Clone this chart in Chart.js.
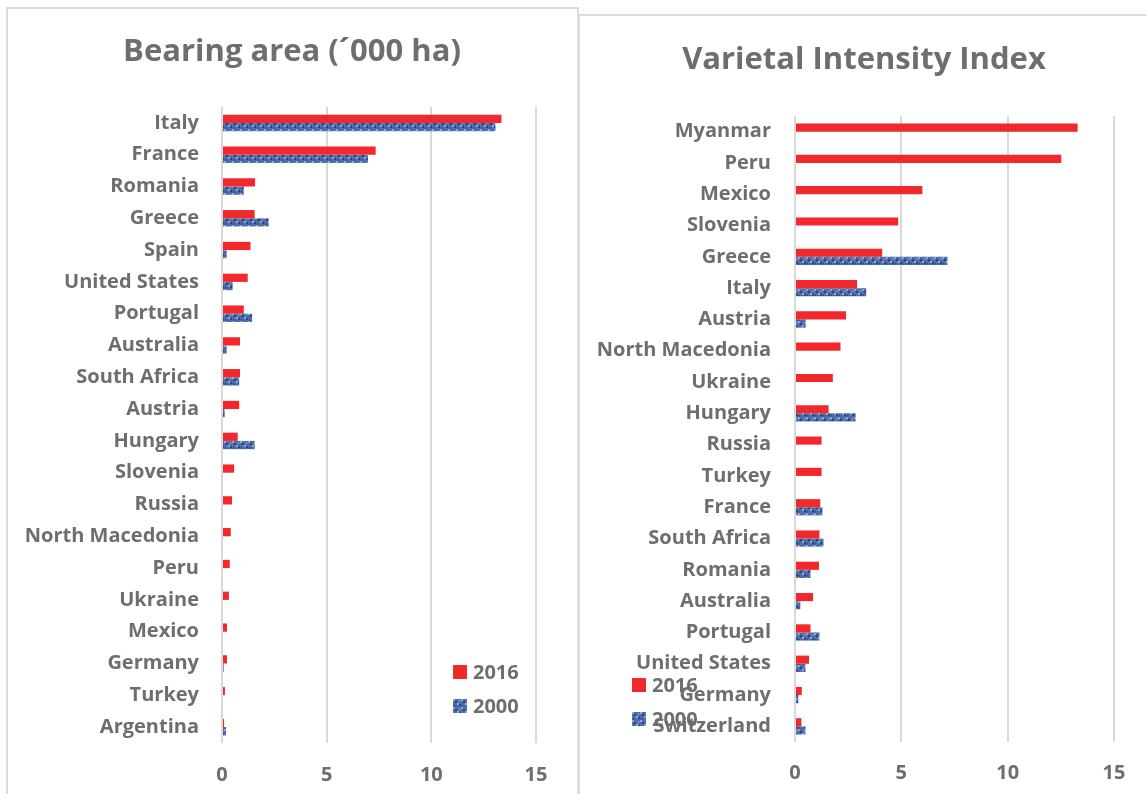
<!DOCTYPE html>
<html>
<head>
<meta charset="utf-8">
<script src="https://cdn.jsdelivr.net/npm/chart.js@4.4.1/dist/chart.umd.min.js"></script>
<style>
  html, body { margin: 0; padding: 0; background: #fff; overflow: hidden; }
  body { width: 1146px; height: 794px; position: relative; font-family: "Open Sans", sans-serif; }
  .panel { position: absolute; border: 2px solid #dcdcdc; background: #fff; box-sizing: border-box; }
  #leftPanel { left: 6px; top: 7px; width: 573px; height: 800px; }
  #rightPanel { left: 578px; top: 14px; width: 580px; height: 800px; }
  .box { position: absolute; }
  .legend { position: absolute; font: bold 20px "Open Sans", sans-serif; color: #6e6e6e; }
  .legend-item { position: absolute; white-space: nowrap; height: 24px; line-height: 24px; }
  .legend-swatch { position: absolute; left: 0; top: 5px; width: 14px; height: 14px; }
  .legend-item span.txt { position: absolute; left: 20px; top: 0; }
</style>
</head>
<body>
<div class="panel" id="leftPanel"></div>
<div class="panel" id="rightPanel"></div>
<div class="box" style="left:8px;top:9px;width:568px;height:808px;"><canvas id="areaChart" width="568" height="808"></canvas></div>
<div class="box" style="left:582px;top:17px;width:564px;height:797px;"><canvas id="indexChart" width="564" height="797"></canvas></div>
<div class="legend" id="areaLegend" style="left:453px;top:660px;"></div>
<div class="legend" id="indexLegend" style="left:632px;top:673px;"></div>
<script>
// Bearing area ('000 ha)
const areaCountries = ["Italy", "France", "Romania", "Greece", "Spain", "United States", "Portugal",
  "Australia", "South Africa", "Austria", "Hungary", "Slovenia", "Russia", "North Macedonia",
  "Peru", "Ukraine", "Mexico", "Germany", "Turkey", "Argentina"];
const area2016 = [13.35, 7.34, 1.58, 1.56, 1.36, 1.23, 1.04, 0.86, 0.86, 0.82, 0.75, 0.58, 0.48,
  0.42, 0.37, 0.33, 0.24, 0.24, 0.14, 0.1];
const area2000 = [13.06, 6.97, 1.04, 2.23, 0.22, 0.51, 1.44, 0.22, 0.82, 0.13, 1.56, 0, 0,
  0, 0, 0, 0, 0.08, 0, 0.19];

// Varietal Intensity Index
const indexCountries = ["Myanmar", "Peru", "Mexico", "Slovenia", "Greece", "Italy", "Austria",
  "North Macedonia", "Ukraine", "Hungary", "Russia", "Turkey", "France", "South Africa", "Romania",
  "Australia", "Portugal", "United States", "Germany", "Switzerland"];
const index2016 = [13.29, 12.52, 5.99, 4.85, 4.1, 2.92, 2.4, 2.14, 1.78, 1.58, 1.25, 1.25, 1.19,
  1.15, 1.13, 0.85, 0.73, 0.66, 0.32, 0.3];
const index2000 = [0, 0, 0, 0, 7.17, 3.35, 0.5, 0, 0, 2.85, 0, 0, 1.29, 1.34, 0.73, 0.25, 1.15,
  0.49, 0.16, 0.49];

const xTicks = [0, 5, 10, 15];

const RED = "#f1292d";
const GREY = "#6e6e6e";
const FONT = "Open Sans";

// textured blue fill, like the office pattern fill
function bluePattern() {
  const c = document.createElement("canvas");
  c.width = 8;
  c.height = 8;
  const g = c.getContext("2d");
  g.fillStyle = "#4d6daa";
  g.fillRect(0, 0, 8, 8);
  g.fillStyle = "#8fa8d6";
  g.fillRect(0, 0, 2, 2);
  g.fillRect(4, 4, 2, 2);
  g.fillRect(6, 1, 1, 2);
  g.fillStyle = "#2a4780";
  g.fillRect(2, 2, 2, 2);
  g.fillRect(6, 5, 2, 2);
  g.fillRect(1, 6, 1, 2);
  return g.createPattern(c, "repeat");
}
const BLUE = bluePattern();

// title centred on the whole panel, not on the padded layout box
const panelTitle = {
  id: "panelTitle",
  afterDraw(chart, args, opts) {
    const ctx = chart.ctx;
    ctx.save();
    ctx.font = `bold ${opts.size}px "${FONT}"`;
    ctx.fillStyle = GREY;
    ctx.textAlign = "center";
    ctx.textBaseline = "middle";
    ctx.fillText(opts.text, chart.width / 2, opts.y);
    ctx.restore();
  },
};

function makeLegend(id) {
  const box = document.getElementById(id);
  [["2016", RED], ["2000", BLUE]].forEach(([label, color], i) => {
    const item = document.createElement("div");
    item.className = "legend-item";
    item.style.top = i * 34 + "px";
    const sw = document.createElement("canvas");
    sw.className = "legend-swatch";
    sw.width = 14;
    sw.height = 14;
    const g = sw.getContext("2d");
    g.fillStyle = color;
    g.fillRect(0, 0, 14, 14);
    const txt = document.createElement("span");
    txt.className = "txt";
    txt.textContent = label;
    item.append(sw, txt);
    box.append(item);
  });
}

function drawChart(canvasId, title, labels, d2016, d2000, yWidth, geo) {
  new Chart(document.getElementById(canvasId), {
    type: "bar",
    data: {
      labels,
      datasets: [
        { label: "2016", data: d2016, backgroundColor: RED },
        { label: "2000", data: d2000, backgroundColor: BLUE },
      ],
    },
    options: {
      indexAxis: "y",
      responsive: false,
      animation: false,
      datasets: { bar: { categoryPercentage: 0.52, barPercentage: 1.0 } },
      layout: { padding: { left: 0, right: geo.right, top: geo.top, bottom: geo.bottom } },
      plugins: {
        legend: { display: false },
        tooltip: { enabled: false },
        title: { display: false },
        panelTitle: { text: title, size: 31, y: 43 },
      },
      scales: {
        x: {
          min: 0,
          max: 15,
          afterBuildTicks: (s) => { s.ticks = xTicks.map((v) => ({ value: v })); },
          grid: { color: "#d9d9d9", lineWidth: 2, drawTicks: false },
          border: { display: false },
          ticks: { color: GREY, padding: geo.xPad, font: { family: FONT, size: 20, weight: "bold" } },
        },
        y: {
          grid: { display: false, drawTicks: false },
          border: { display: false },
          afterFit: (s) => { s.width = yWidth; },
          ticks: {
            color: GREY,
            padding: geo.yPad,
            autoSkip: false,
            font: { family: FONT, size: 20, weight: "bold" },
          },
        },
      },
    },
    plugins: [panelTitle],
  });
}

drawChart("areaChart", "Bearing area (\u00b4000 ha)", areaCountries, area2016, area2000, 214,
  { right: 40, top: 98, bottom: 10, xPad: 20, yPad: 23 });
drawChart("indexChart", "Varietal Intensity Index", indexCountries, index2016, index2000, 213,
  { right: 32, top: 99, bottom: 10, xPad: 19, yPad: 24 });

makeLegend("areaLegend");
makeLegend("indexLegend");
</script>
</body>
</html>
